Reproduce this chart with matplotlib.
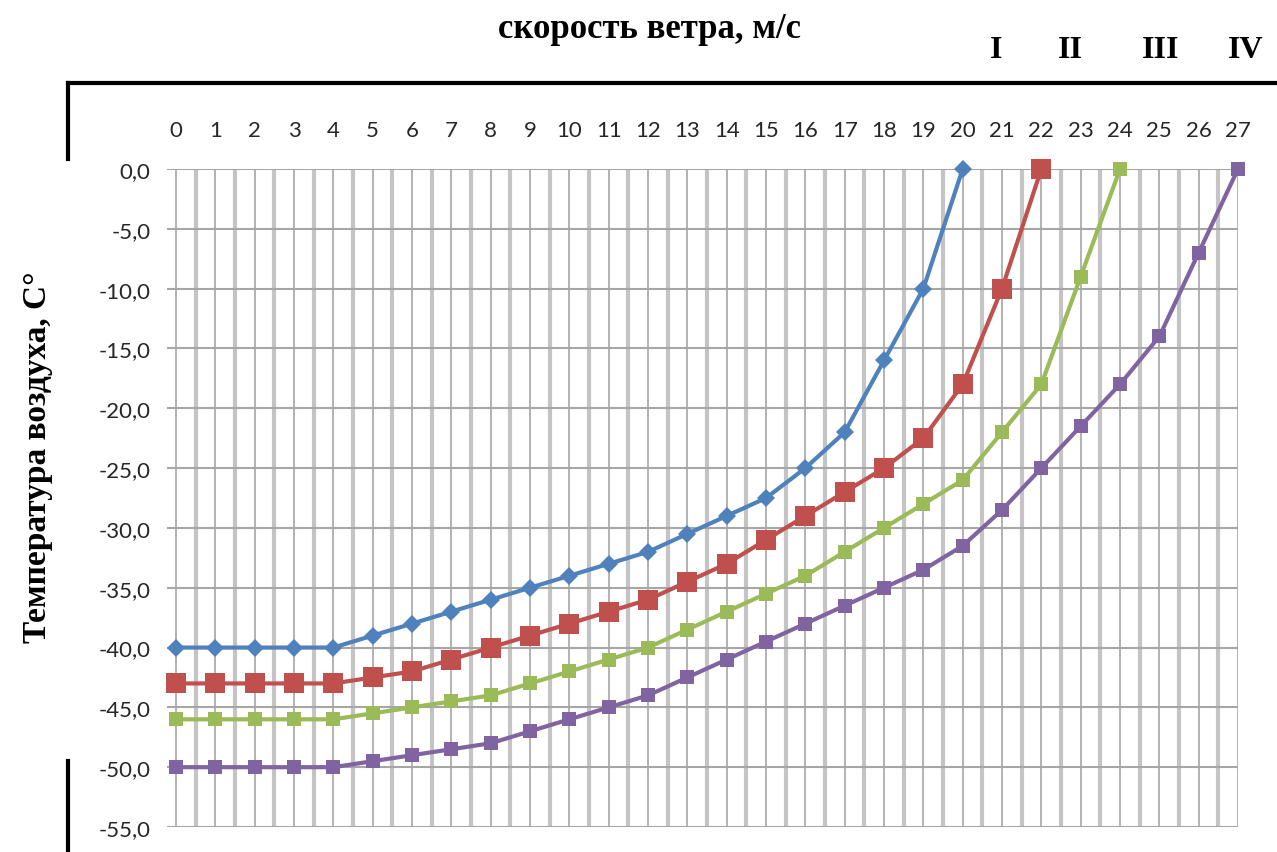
import numpy as np
import matplotlib
matplotlib.use('Agg')
import matplotlib.pyplot as plt
from matplotlib.lines import Line2D
from matplotlib.ticker import FuncFormatter

# Скорость ветра (м/с) и температура воздуха для кривых I-IV
speed_I = list(range(0, 21))
temp_I = [-40, -40, -40, -40, -40, -39, -38, -37, -36, -35, -34, -33, -32, -30.5,
          -29, -27.5, -25, -22, -16, -10, 0]

speed_II = list(range(0, 23))
temp_II = [-43, -43, -43, -43, -43, -42.5, -42, -41, -40, -39, -38, -37, -36, -34.5,
           -33, -31, -29, -27, -25, -22.5, -18, -10, 0]

speed_III = list(range(0, 25))
temp_III = [-46, -46, -46, -46, -46, -45.5, -45, -44.5, -44, -43, -42, -41, -40, -38.5,
            -37, -35.5, -34, -32, -30, -28, -26, -22, -18, -9, 0]

speed_IV = list(range(0, 28))
temp_IV = [-50, -50, -50, -50, -50, -49.5, -49, -48.5, -48, -47, -46, -45, -44, -42.5,
           -41, -39.5, -38, -36.5, -35, -33.5, -31.5, -28.5, -25, -21.5, -18, -14, -7, 0]

x_ticks = list(range(0, 28))
y_ticks = list(range(-55, 1, 5))
series_names = ['I', 'II', 'III', 'IV']

W, H = 1277, 853
fig = plt.figure(figsize=(W / 100, H / 100), dpi=100)
ax = fig.add_axes([167 / W, 1 - 828 / H, (1238 - 167) / W, (828 - 170) / H])

ax.set_xlim(-0.23, 27)
ax.set_ylim(-55, 0)

# сетка: тонкие линии по категориям, толстые между ними
ax.set_xticks(x_ticks)
ax.set_xticks(np.arange(0.5, 27, 1), minor=True)
ax.set_yticks(y_ticks)
ax.grid(True, which='major', axis='x', color='#a6a6a6', linewidth=1.2)
ax.grid(True, which='minor', axis='x', color='#c4c4c4', linewidth=3)
ax.grid(True, which='major', axis='y', color='#a6a6a6', linewidth=1.5)
ax.set_axisbelow(True)
for s in ax.spines.values():
    s.set_visible(False)

ax.xaxis.tick_top()
ax.tick_params(axis='x', which='both', length=0, pad=21, labelsize=16, labelcolor='#262626')
ax.tick_params(axis='y', which='both', length=0, pad=12, labelsize=16, labelcolor='#262626')
ax.yaxis.set_major_formatter(FuncFormatter(lambda v, p: f"{v:.1f}".replace('.', ',')))
for lab in ax.get_xticklabels() + ax.get_yticklabels():
    lab.set_fontfamily('Lato')

ax.plot(speed_I, temp_I, color='#4f81bd', lw=3, marker='D', ms=9.5, mew=0, clip_on=False, zorder=5)
ax.plot(speed_II, temp_II, color='#c0504d', lw=3, marker='s', ms=14, mew=0, clip_on=False, zorder=5)
ax.plot(speed_III, temp_III, color='#9bbb59', lw=3, marker='s', ms=9.5, mew=0, clip_on=False, zorder=5)
ax.plot(speed_IV, temp_IV, color='#8064a2', lw=3, marker='s', ms=9.5, mew=0, clip_on=False, zorder=5)

serif = ['Liberation Serif', 'DejaVu Serif']
fig.text(649 / W, 1 - 30 / H, 'скорость ветра, м/с', ha='center', va='center',
         fontsize=25, fontweight='bold', family=serif)
fig.text(38 / W, 1 - 457 / H, 'Температура воздуха, С°', ha='center', va='center',
         rotation=90, fontsize=24, fontweight='bold', family=serif)
for name, xp in zip(series_names, [996, 1070, 1161, 1246]):
    fig.text(xp / W, 1 - 50 / H, name, ha='center', va='center',
             fontsize=23, fontweight='bold', family=serif)

# чёрная рамка (частично)
fig.add_artist(Line2D([68 / W, 1], [1 - 84 / H, 1 - 84 / H], color='black', lw=3, transform=fig.transFigure))
fig.add_artist(Line2D([68 / W, 68 / W], [1 - 84 / H, 1 - 160 / H], color='black', lw=3, transform=fig.transFigure))
fig.add_artist(Line2D([68 / W, 68 / W], [1 - 762 / H, 0], color='black', lw=3, transform=fig.transFigure))

fig.savefig('out.png', dpi=100)
